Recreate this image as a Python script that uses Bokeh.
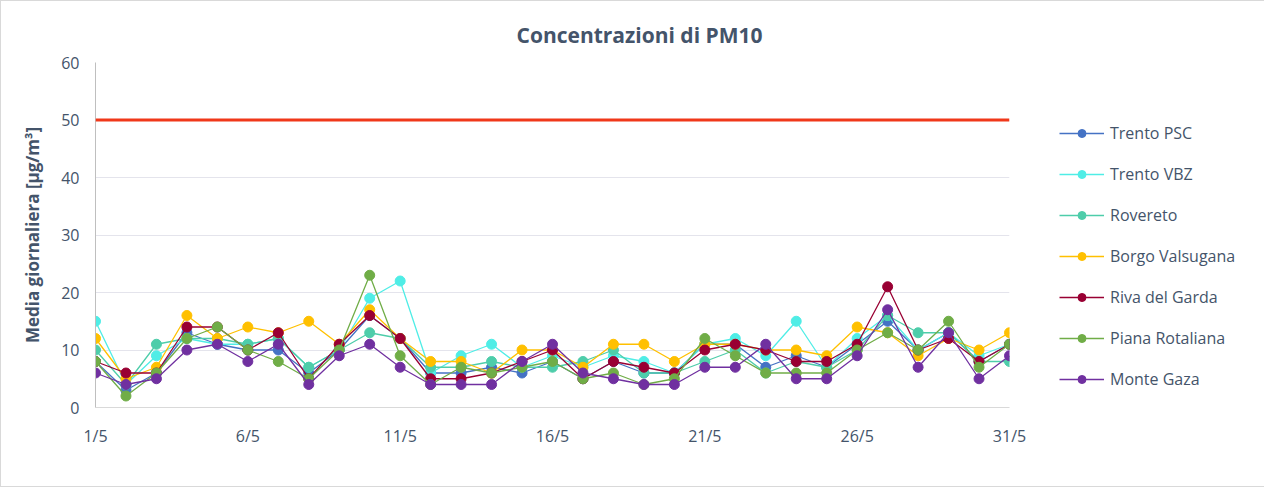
from bokeh.plotting import figure
from bokeh.models import Legend, LegendItem, Span, FixedTicker, Title
from bokeh.embed import file_html
from bokeh.resources import INLINE

days = list(range(1, 32))
tick_days = [1, 6, 11, 16, 21, 26, 31]
tick_labels = ["1/5", "6/5", "11/5", "16/5", "21/5", "26/5", "31/5"]

trento_psc = [8, 3, 6, 13, 11, 10, 10, 6, 10, 16, 12, 6, 6, 7, 6, 8, 5, 8, 6, 6, 11, 11, 7, 9, 7, 11, 15, 10, 13, 8, 11]
trento_vbz = [15, 4, 9, 12, 11, 11, 12, 7, 10, 19, 22, 6, 9, 11, 7, 9, 7, 9, 8, 6, 11, 12, 9, 15, 7, 12, 16, 10, 13, 9, 11]
rovereto = [10, 4, 11, 12, 12, 11, 12, 7, 10, 13, 12, 7, 7, 8, 7, 7, 8, 10, 6, 6, 8, 10, 6, 8, 7, 10, 16, 13, 13, 8, 8]
borgo = [12, 5, 7, 16, 12, 14, 13, 15, 11, 17, 12, 8, 8, 6, 10, 10, 7, 11, 11, 8, 11, 11, 10, 10, 9, 14, 13, 9, 12, 10, 13]
riva = [8, 6, 6, 14, 14, 10, 13, 5, 11, 16, 12, 5, 5, 6, 8, 10, 5, 8, 7, 6, 10, 11, 10, 8, 8, 11, 21, 10, 12, 8, 11]
piana = [8, 2, 6, 12, 14, 10, 8, 5, 10, 23, 9, 4, 7, 6, 7, 8, 5, 6, 4, 5, 12, 9, 6, 6, 6, 10, 13, 10, 15, 7, 11]
gaza = [6, 4, 5, 10, 11, 8, 11, 4, 9, 11, 7, 4, 4, 4, 8, 11, 6, 5, 4, 4, 7, 7, 11, 5, 5, 9, 17, 7, 13, 5, 9]
limit_value = 50

names = ["Trento PSC", "Trento VBZ", "Rovereto", "Borgo Valsugana", "Riva del Garda", "Piana Rotaliana", "Monte Gaza"]
series = [trento_psc, trento_vbz, rovereto, borgo, riva, piana, gaza]
colors = ["#4472C4", "#4FEDE6", "#4ECDAA", "#FFC000", "#990033", "#70AD47", "#7030A0"]

FONT = "Open Sans"
TXT = "#44546A"

p = figure(width=1260, height=485, frame_width=914, frame_height=345,
           output_backend="svg", toolbar_location=None,
           x_range=(1, 31), y_range=(0, 60),
           min_border_left=94, min_border_right=0, min_border_top=61, min_border_bottom=79)
p.styles = {"border": "1px solid #D9D9D9"}

p.title = Title(text="Concentrazioni di PM10", align="left", text_font=FONT,
                text_font_size="21px", text_font_style="bold", text_color=TXT, offset=421)
p.title.standoff = 27

p.add_layout(Span(location=limit_value, dimension="width", line_color="#F0381A", line_width=3))

items = []
for name, vals, col in zip(names, series, colors):
    r1 = p.line(days, vals, line_color=col, line_width=1.3)
    r2 = p.scatter(days, vals, size=10, fill_color=col, line_color=col)
    items.append(LegendItem(label=name, renderers=[r1, r2]))

legend = Legend(items=items, location=(50, 17), background_fill_alpha=0, border_line_alpha=0,
                label_text_font=FONT, label_text_font_size="16px", label_text_color=TXT,
                glyph_width=45, glyph_height=20, label_height=20, spacing=19, padding=0,
                margin=0, label_standoff=6)
p.add_layout(legend, "right")

p.xaxis.ticker = FixedTicker(ticks=tick_days)
p.xaxis.major_label_overrides = {d: l for d, l in zip(tick_days, tick_labels)}
p.yaxis.ticker = FixedTicker(ticks=[0, 10, 20, 30, 40, 50, 60])
for ax in (p.xaxis, p.yaxis):
    ax.major_tick_line_color = None
    ax.minor_tick_line_color = None
    ax.major_tick_out = 0
    ax.major_tick_in = 0
    ax.minor_tick_out = 0
    ax.major_label_text_font = FONT
    ax.major_label_text_font_size = "16px"
    ax.major_label_text_color = TXT
p.xaxis.axis_line_color = "#D9D9D9"
p.yaxis.axis_line_color = "#BFBFBF"
p.xaxis.major_label_standoff = 17
p.yaxis.major_label_standoff = 16
p.yaxis.axis_label = "Media giornaliera [µg/m³]"
p.yaxis.axis_label_text_font = FONT
p.yaxis.axis_label_text_font_size = "17px"
p.yaxis.axis_label_text_font_style = "bold"
p.yaxis.axis_label_text_color = TXT
p.yaxis.axis_label_standoff = 14

p.xgrid.grid_line_color = None
p.ygrid.grid_line_color = "#E4E4EC"
p.outline_line_color = None
p.background_fill_color = "white"

open("out.html", "w").write(file_html(p, INLINE))
